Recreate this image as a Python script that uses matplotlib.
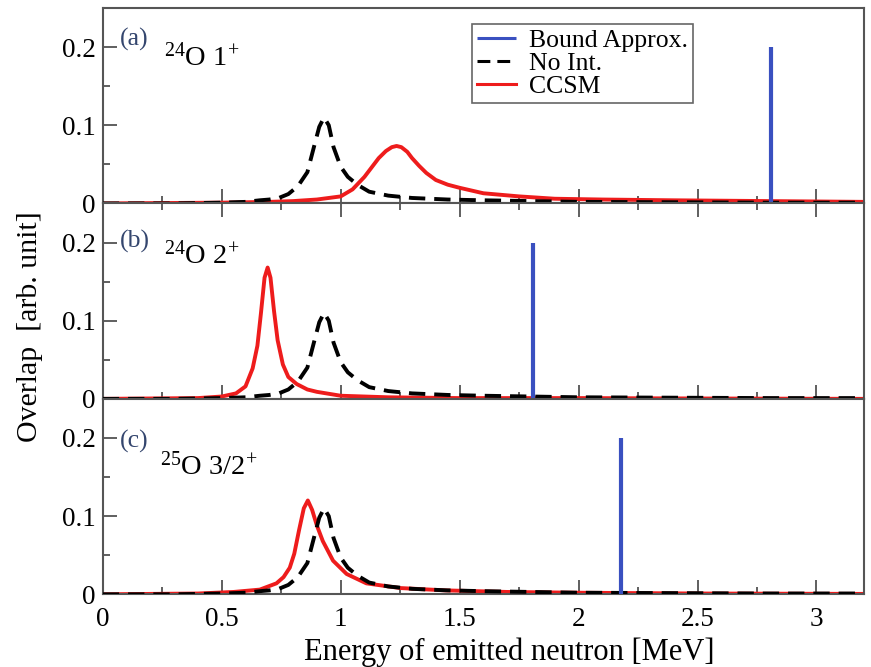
import numpy as np
import matplotlib
matplotlib.use("Agg")
import matplotlib.pyplot as plt
from matplotlib.ticker import MultipleLocator

plt.rcParams['font.family'] = ['Liberation Serif', 'DejaVu Serif']
plt.rcParams['mathtext.fontset'] = 'custom'
plt.rcParams['mathtext.rm'] = 'Liberation Serif'
plt.rcParams['mathtext.it'] = 'Liberation Serif:italic'

# No Int. curve (same in all three panels)
x_noint = [0, 0.3, 0.5, 0.6, 0.66, 0.7, 0.74, 0.78, 0.82, 0.86, 0.89, 0.91, 0.93,
           0.95, 0.97, 1.0, 1.03, 1.07, 1.12, 1.2, 1.3, 1.45, 1.6, 1.8, 2.0, 2.4, 2.8, 3.2]
y_noint = [0, 0, 0.001, 0.002, 0.004, 0.005, 0.007, 0.012, 0.022, 0.04, 0.075, 0.098, 0.110,
           0.1, 0.072, 0.047, 0.034, 0.024, 0.015, 0.01, 0.007, 0.005, 0.004, 0.003, 0.002,
           0.0015, 0.001, 0.001]

# CCSM curves
x_ccsm_a = [0, 0.5, 0.7, 0.8, 0.9, 1.0, 1.05, 1.1, 1.13, 1.16, 1.19, 1.215, 1.235, 1.255,
            1.28, 1.3, 1.33, 1.36, 1.4, 1.45, 1.5, 1.6, 1.75, 1.9, 2.1, 2.4, 2.8, 3.2]
y_ccsm_a = [0, 0.001, 0.002, 0.003, 0.005, 0.009, 0.018, 0.034, 0.046, 0.058, 0.067, 0.072,
            0.0735, 0.072, 0.066, 0.058, 0.048, 0.039, 0.03, 0.024, 0.02, 0.013, 0.009,
            0.006, 0.005, 0.004, 0.003, 0.002]

x_ccsm_b = [0, 0.4, 0.5, 0.56, 0.6, 0.63, 0.65, 0.665, 0.68, 0.693, 0.705, 0.72, 0.735,
            0.757, 0.78, 0.815, 0.86, 0.9, 1.0, 1.2, 1.5, 2.0, 2.5, 3.2]
y_ccsm_b = [0, 0.001, 0.003, 0.007, 0.016, 0.039, 0.068, 0.11, 0.155, 0.168, 0.155, 0.112,
            0.075, 0.044, 0.028, 0.019, 0.012, 0.009, 0.004, 0.002, 0.001, 0.001, 0.0005, 0]

x_ccsm_c = [0, 0.4, 0.55, 0.66, 0.73, 0.76, 0.786, 0.805, 0.825, 0.845, 0.862, 0.88, 0.9,
            0.925, 0.968, 1.025, 1.108, 1.25, 1.44, 1.7, 2.0, 2.5, 3.2]
y_ccsm_c = [0, 0.001, 0.003, 0.006, 0.014, 0.022, 0.034, 0.052, 0.082, 0.11, 0.12, 0.108,
            0.088, 0.068, 0.043, 0.026, 0.014, 0.008, 0.005, 0.003, 0.002, 0.001, 0.0005]

# bound state approximation: single line per state
bound_x = [2.81, 1.81, 2.18]
bound_h = [0.2, 0.2, 0.2]

labels = [r'$^{24}$O 1$^{+}$', r'$^{24}$O 2$^{+}$', r'$^{25}$O 3/2$^{+}$']
tags = ['(a)', '(b)', '(c)']

ccsm_x = [x_ccsm_a, x_ccsm_b, x_ccsm_c]
ccsm_y = [y_ccsm_a, y_ccsm_b, y_ccsm_c]

# text placement in axes fraction (baseline)
tag_y = [0.81, 0.775, 0.75]
lab_y = [0.705, 0.69, 0.615]
lab_x = [0.081, 0.081, 0.075]

fig, axes = plt.subplots(3, 1, sharex=True, figsize=(8.71, 6.67), dpi=100)
fig.subplots_adjust(left=0.118, right=0.992, top=0.988, bottom=0.109, hspace=0)

for i, ax in enumerate(axes):
    ax.vlines(bound_x[i], 0, bound_h[i], color='#3a50c0', lw=3, zorder=4,
              label='Bound Approx.')
    ax.plot(x_noint, y_noint, color='black', lw=2.8, ls=(0, (4.2, 2.3)), zorder=3,
            label='No Int.')
    ax.plot(ccsm_x[i], ccsm_y[i], color='#ee1c1c', lw=2.8, zorder=2, label='CCSM')

    ax.set_xlim(0, 3.2)
    ax.set_ylim(0, 0.25)
    ax.set_yticks([0, 0.1, 0.2])
    ax.set_yticklabels(['0', '0.1', '0.2'])
    ax.yaxis.set_minor_locator(MultipleLocator(0.05))
    ax.xaxis.set_major_locator(MultipleLocator(0.5))
    ax.xaxis.set_minor_locator(MultipleLocator(0.25))
    ax.tick_params(which='both', direction='in', color='#444444', labelsize=19.5,
                   top=(i == 1), right=False)
    ax.tick_params(which='major', length=10, width=1.2)
    ax.tick_params(axis='x', which='major', pad=9)
    ax.tick_params(axis='y', which='major', pad=5)
    ax.tick_params(which='minor', length=5, width=1.2)
    for s in ax.spines.values():
        s.set_color('#555555')
        s.set_linewidth(1.5)

    ax.text(0.022, tag_y[i], tags[i], transform=ax.transAxes, fontsize=18.5,
            color='#34466e', va='baseline')
    ax.text(lab_x[i], lab_y[i], labels[i], transform=ax.transAxes, fontsize=20.5,
            color='black', va='baseline')

axes[2].set_xticks([0, 0.5, 1, 1.5, 2, 2.5, 3])
axes[2].set_xticklabels(['0', '0.5', '1', '1.5', '2', '2.5', '3'])

leg = axes[0].legend(loc='upper left', bbox_to_anchor=(0.485, 0.92), borderaxespad=0,
                     fontsize=18.5, labelspacing=0.0, handlelength=1.5, handletextpad=0.5,
                     borderpad=0.2, fancybox=False, framealpha=1)
leg.get_frame().set_edgecolor('#666666')
leg.get_frame().set_linewidth(1.2)
for h in leg.get_lines():
    h.set_linewidth(2.2)

fig.text(0.585, 0.022, 'Energy of emitted neutron [MeV]', fontsize=22,
         ha='center', va='center')
fig.text(0.034, 0.51, 'Overlap  [arb. unit]', fontsize=21.5, rotation=90,
         ha='center', va='center')

fig.savefig('out.png', dpi=100)
